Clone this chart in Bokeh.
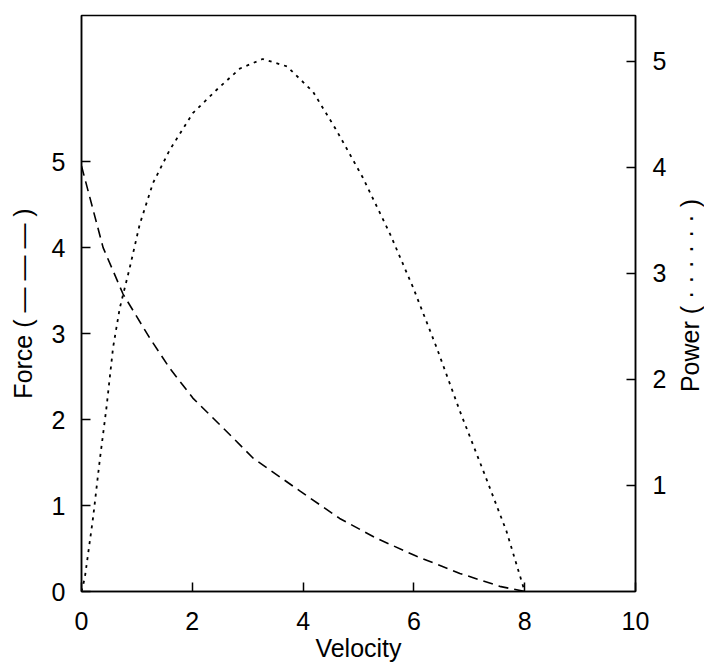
import math
from bokeh.plotting import figure
from bokeh.layouts import row
from bokeh.models import Range1d, LinearAxis, FixedTicker
from bokeh.core.properties import value
from bokeh.embed import file_html
from bokeh.resources import INLINE

# Data
velocity_force = [0.0, 0.39, 0.75, 1.23, 1.59, 2.01, 2.56, 3.10, 3.94, 4.66, 5.32, 6.05, 6.83, 7.55, 8.0]
force = [4.95, 4.00, 3.46, 2.95, 2.60, 2.25, 1.90, 1.55, 1.17, 0.85, 0.62, 0.41, 0.21, 0.06, 0.0]

velocity_power = [0.0, 0.06, 0.21, 0.33, 0.45, 0.57, 0.69, 0.87, 1.05, 1.29, 1.59, 2.01, 2.44,
                  2.86, 3.27, 3.71, 4.18, 4.60, 5.08, 5.57, 5.99, 6.41, 6.83, 7.25, 7.67, 8.0]
power = [0.0, 0.13, 0.70, 1.24, 1.73, 2.30, 2.67, 3.05, 3.46, 3.85, 4.16, 4.51, 4.73,
         4.93, 5.02, 4.95, 4.71, 4.35, 3.90, 3.37, 2.86, 2.30, 1.70, 1.14, 0.57, 0.0]

x_ticks = [0, 2, 4, 6, 8, 10]
force_ticks = [0, 1, 2, 3, 4, 5]
power_ticks = [1, 2, 3, 4, 5]

FONT = "Liberation Sans"
FS = "25px"
FRAME_W, FRAME_H = 554, 576
POWER_MAX = 5.43

p = figure(x_range=Range1d(0, 10), y_range=Range1d(0, 6.7),
           frame_width=FRAME_W, frame_height=FRAME_H,
           min_border_left=81, min_border_top=15, min_border_right=40, min_border_bottom=60,
           output_backend="svg", toolbar_location=None)
p.extra_y_ranges = {"power": Range1d(0, POWER_MAX)}

p.xgrid.visible = False
p.ygrid.visible = False
p.outline_line_color = "black"
p.outline_line_width = 1.5
p.background_fill_color = "white"
p.border_fill_color = "white"

right_axis = LinearAxis(y_range_name="power")
p.add_layout(right_axis, "right")

for ax in [p.xaxis[0], p.yaxis[0], right_axis]:
    ax.major_tick_in = 9
    ax.major_tick_out = 0
    ax.minor_tick_in = 0
    ax.minor_tick_out = 0
    ax.axis_line_color = "black"
    ax.axis_line_width = 1.5
    ax.major_tick_line_color = "black"
    ax.major_tick_line_width = 1.5
    ax.major_label_text_font = FONT
    ax.major_label_text_font_size = FS
    ax.major_label_text_color = "black"
    ax.axis_label_text_font = FONT
    ax.axis_label_text_font_size = FS
    ax.axis_label_text_font_style = "normal"
    ax.axis_label_text_color = "black"

p.xaxis[0].ticker = FixedTicker(ticks=x_ticks)
p.yaxis[0].ticker = FixedTicker(ticks=force_ticks)
right_axis.ticker = FixedTicker(ticks=power_ticks)

p.xaxis[0].axis_label = "Velocity"
p.xaxis[0].major_label_standoff = 20
p.xaxis[0].axis_label_standoff = 1
p.yaxis[0].axis_label = "Force ( — — — )"
p.yaxis[0].major_label_standoff = 16
p.yaxis[0].axis_label_standoff = 12
right_axis.major_label_standoff = 17

p.line(velocity_force, force, line_color="black", line_width=1.6, line_dash="10 6")
p.line(velocity_power, power, y_range_name="power", line_color="black",
       line_width=1.8, line_dash="3 5")

# Narrow strip to the right holding the Power axis title (reads bottom-to-top)
strip = figure(x_range=Range1d(0, 1), y_range=Range1d(0, POWER_MAX),
               frame_width=29, frame_height=FRAME_H,
               min_border_left=0, min_border_right=0, min_border_top=15, min_border_bottom=0,
               x_axis_type=None, y_axis_type=None,
               output_backend="svg", toolbar_location=None)
strip.xgrid.visible = False
strip.ygrid.visible = False
strip.outline_line_color = None
strip.background_fill_color = "white"
strip.border_fill_color = "white"
strip.text(x=[0.5], y=[2.79], text=["Power ( · · · · · · )"], angle=math.pi / 2,
           text_align="center", text_baseline="middle",
           text_font=value(FONT), text_font_size=value(FS), text_color="black")

layout = row(p, strip)
open("out.html", "w").write(file_html(layout, INLINE))
